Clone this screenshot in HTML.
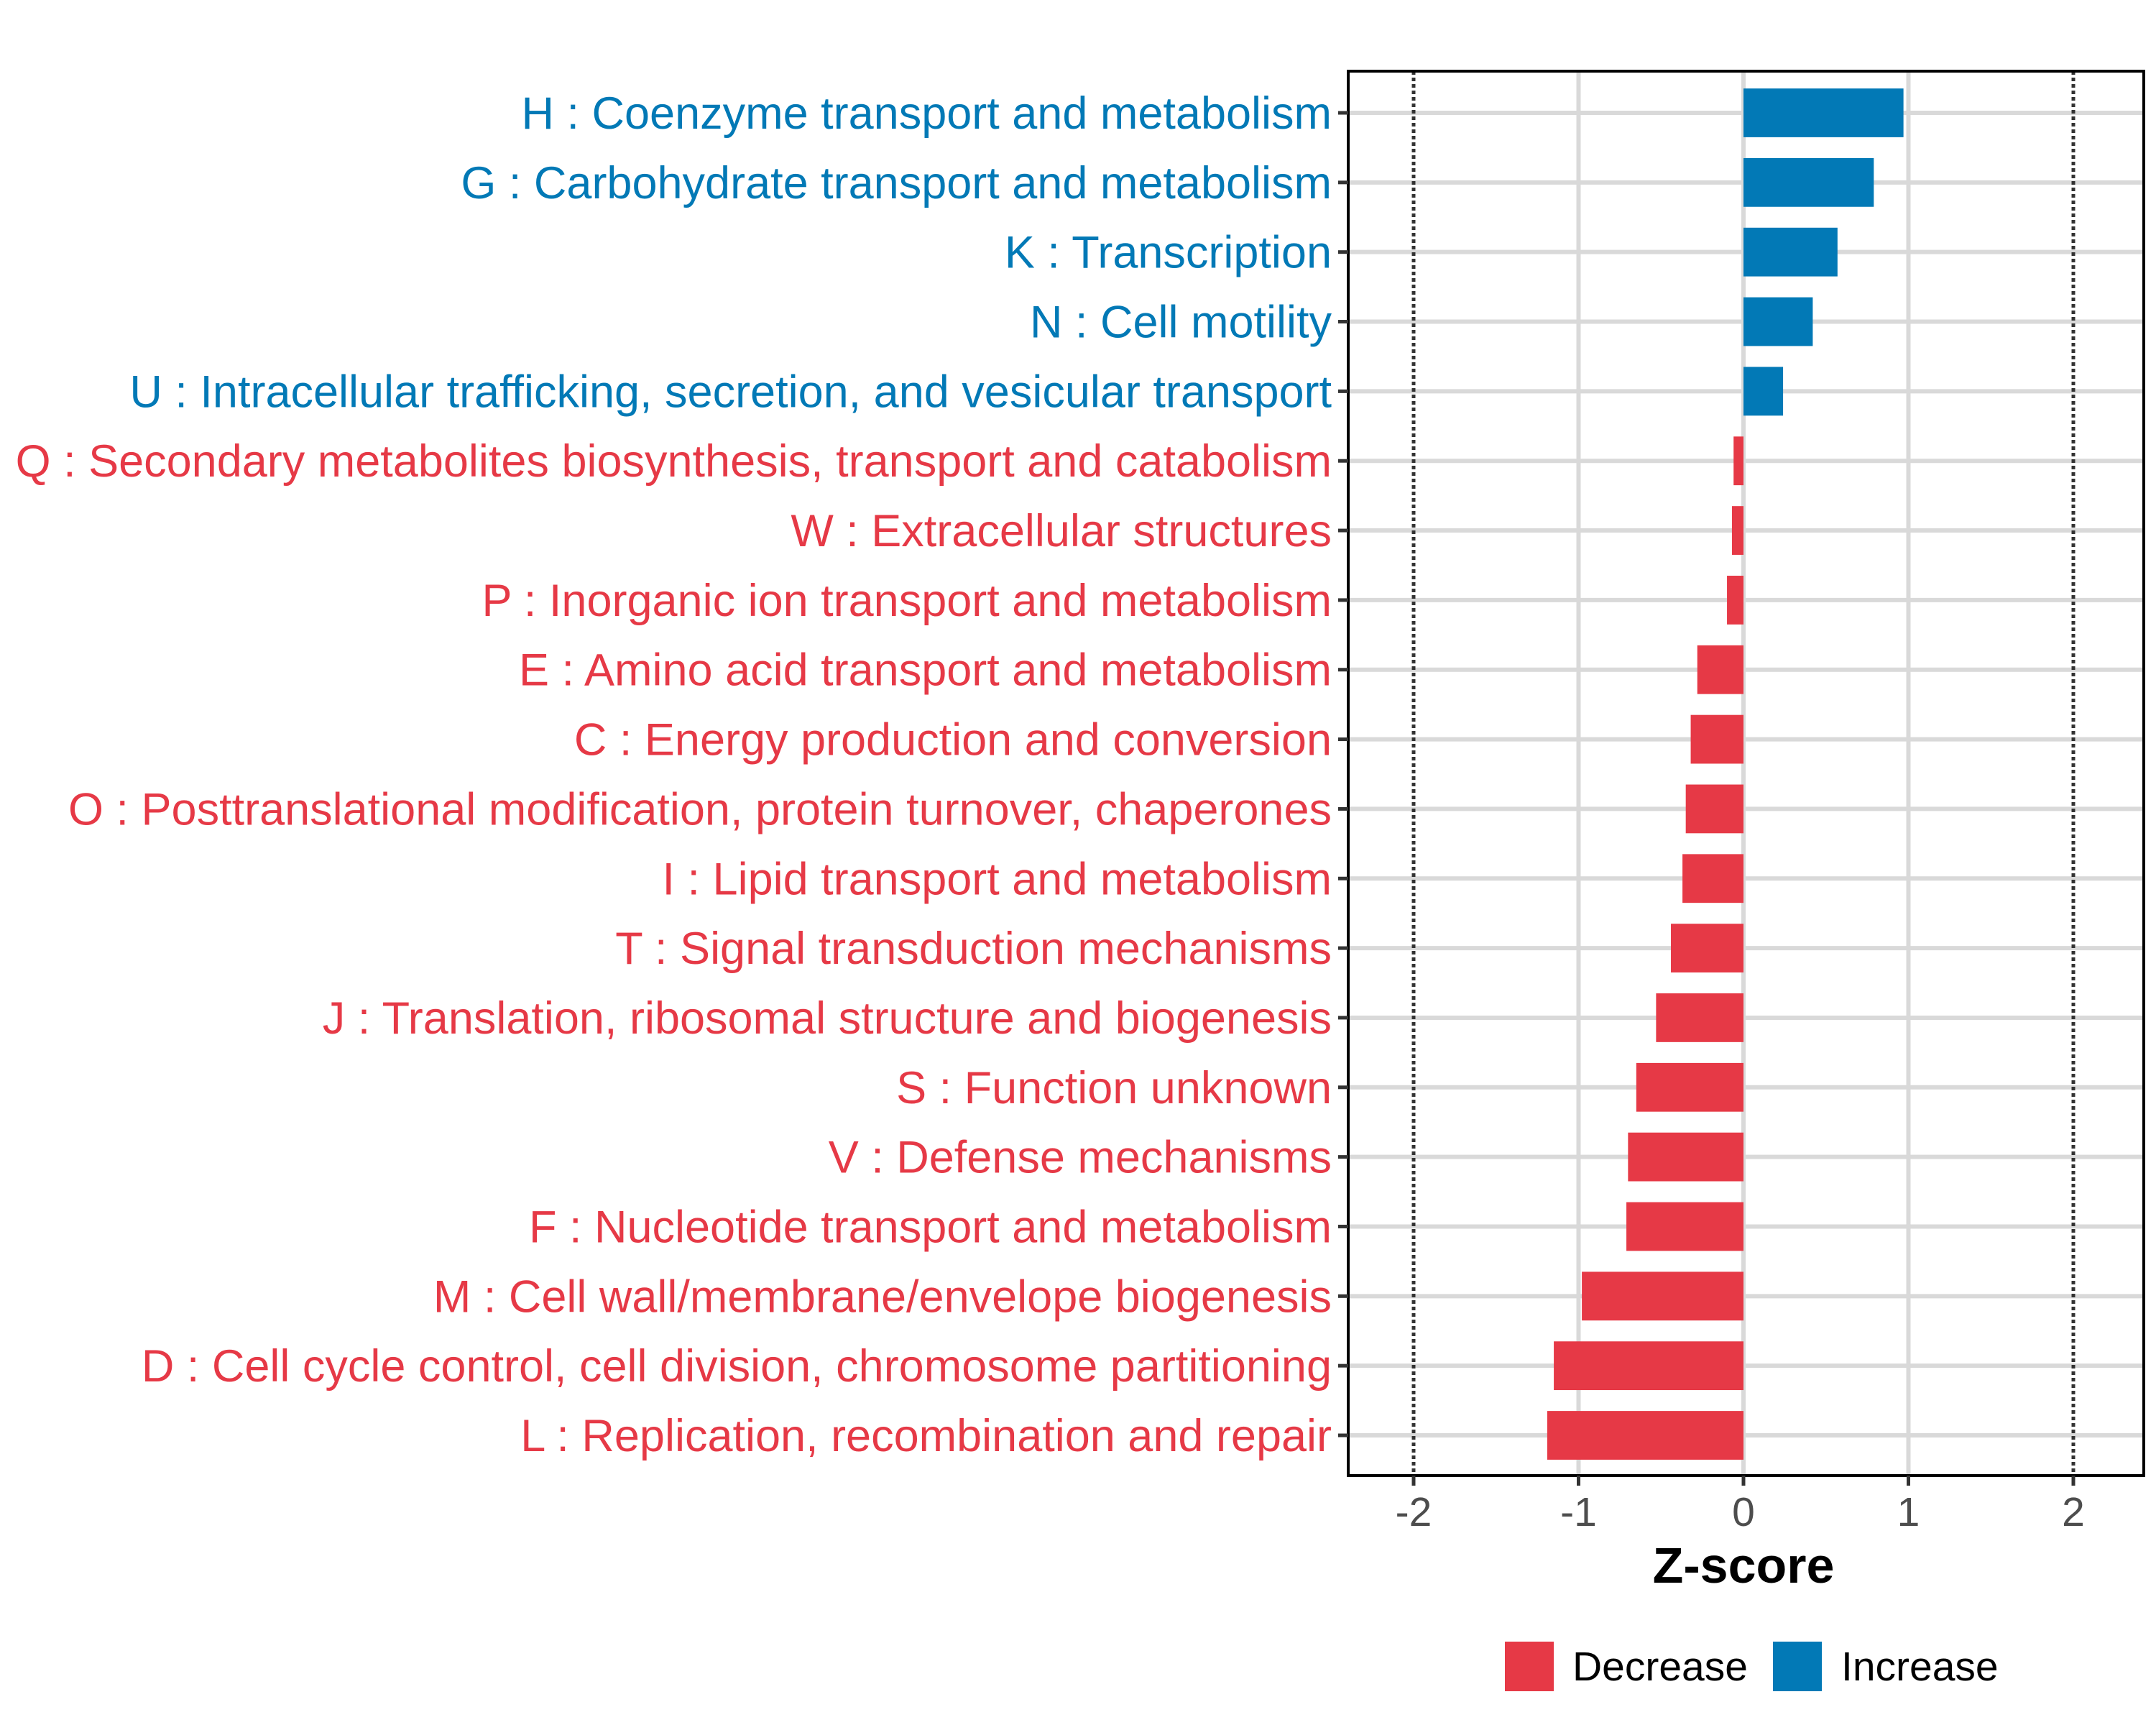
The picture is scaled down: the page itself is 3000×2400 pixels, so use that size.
<!DOCTYPE html>
<html><head><meta charset="utf-8"><style>
html,body{margin:0;padding:0;background:#fff;}
svg{display:block;font-family:"Liberation Sans",Arial,sans-serif;}
</style></head><body>
<svg id="chart" width="3000" height="2400" viewBox="0 0 3000 2400" xmlns="http://www.w3.org/2000/svg">
<rect x="0" y="0" width="3000" height="2400" fill="#fff"/>
<g id="grid"></g><g id="bars"></g><g id="frame"></g><g id="ylabels"></g><g id="xaxis"></g>
<text x="2426" y="2202" font-size="70" font-weight="bold" text-anchor="middle" fill="#000">Z-score</text>
<g>
<rect x="2094" y="2284" width="68" height="69" fill="#E63946"/>
<text x="2188" y="2338" font-size="57" fill="#000">Decrease</text>
<rect x="2467" y="2284" width="68" height="69" fill="#0279B6"/>
<text x="2562" y="2338" font-size="57" fill="#000">Increase</text>
</g>
</svg>
<script>
const categories = ["H : Coenzyme transport and metabolism","G : Carbohydrate transport and metabolism","K : Transcription","N : Cell motility","U : Intracellular trafficking, secretion, and vesicular transport","Q : Secondary metabolites biosynthesis, transport and catabolism","W : Extracellular structures","P : Inorganic ion transport and metabolism","E : Amino acid transport and metabolism","C : Energy production and conversion","O : Posttranslational modification, protein turnover, chaperones","I : Lipid transport and metabolism","T : Signal transduction mechanisms","J : Translation, ribosomal structure and biogenesis","S : Function unknown","V : Defense mechanisms","F : Nucleotide transport and metabolism","M : Cell wall/membrane/envelope biogenesis","D : Cell cycle control, cell division, chromosome partitioning","L : Replication, recombination and repair"];
const zscores = [0.97,0.79,0.57,0.42,0.24,-0.06,-0.07,-0.1,-0.28,-0.32,-0.35,-0.37,-0.44,-0.53,-0.65,-0.7,-0.71,-0.98,-1.15,-1.19];
const xTicks = [-2,-1,0,1,2];
const xTickLabels = ["-2","-1","0","1","2"];
const thresholds = [-2,2];

const NS="http://www.w3.org/2000/svg";
const P={l:1876,r:2983,t:99,b:2053};
const X0=2426, UNIT=229.5;
function xs(v){return X0+v*UNIT;}
const ROW0=157, STEP=(1997-157)/19;
function ys(i){return ROW0+i*STEP;}
const BH=STEP*0.7;
function mk(tag,attrs,parent){const e=document.createElementNS(NS,tag);for(const k in attrs)e.setAttribute(k,attrs[k]);parent.appendChild(e);return e;}
const grid=document.getElementById('grid'),bars=document.getElementById('bars'),frame=document.getElementById('frame'),yl=document.getElementById('ylabels'),xa=document.getElementById('xaxis');
categories.forEach((c,i)=>{
  const l=mk('line',{x1:P.l,x2:P.r,y1:ys(i),y2:ys(i),stroke:'#d9d9d9','stroke-width':6},grid);
  
  
});
xTicks.forEach(v=>{
  if(thresholds.includes(v))return;
  const l=mk('line',{x1:xs(v),x2:xs(v),y1:P.t,y2:P.b,stroke:'#d9d9d9','stroke-width':6},grid);
  
  
});
thresholds.forEach(v=>{
  const l=mk('line',{x1:xs(v),x2:xs(v),y1:P.t,y2:P.b,stroke:'#333','stroke-width':5,'stroke-dasharray':'5 4'},grid);
  
  
});
categories.forEach((c,i)=>{
  const v=zscores[i];
  const x=Math.min(xs(0),xs(v)), w=Math.abs(xs(v)-xs(0));
  const col=v>=0?'#0279B6':'#E63946';
  const r=mk('rect',{x:x,y:ys(i)-BH/2,width:w,height:BH,fill:col},bars);
  
  
  const t=mk('text',{x:1853,y:ys(i)+22,'text-anchor':'end','font-size':63,fill:col},yl);
  t.textContent=c;
  
  
  const tk=mk('line',{x1:P.l-14,x2:P.l,y1:ys(i),y2:ys(i),stroke:'#333','stroke-width':5},yl);
  
  
});
const fr=mk('rect',{x:P.l,y:P.t,width:P.r-P.l,height:P.b-P.t,fill:'none',stroke:'#000','stroke-width':4},frame);


xTicks.forEach((v,i)=>{
  const tk=mk('line',{x1:xs(v),x2:xs(v),y1:P.b,y2:P.b+14,stroke:'#333','stroke-width':5},xa);
  
  
  const t=mk('text',{x:xs(v),y:P.b+70,'text-anchor':'middle','font-size':57,fill:'#4d4d4d'},xa);
  t.textContent=xTickLabels[i];
  
  
});
</script>
</body></html>
